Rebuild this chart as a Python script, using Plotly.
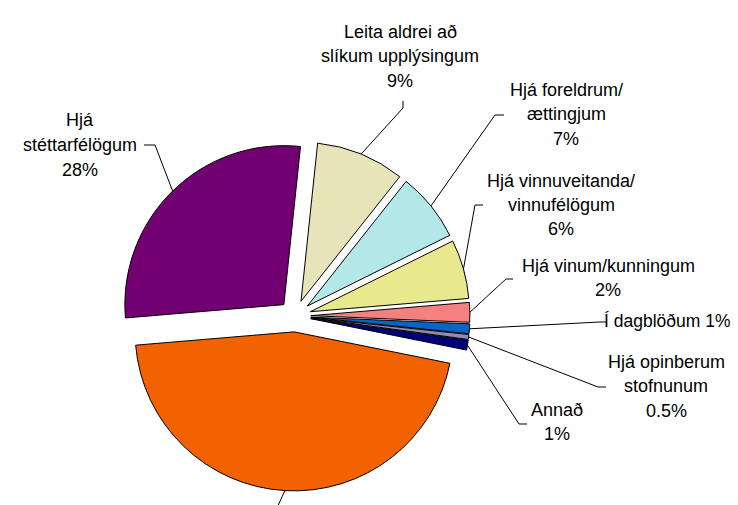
import math
import plotly.graph_objects as go

# ---------------- data ----------------
categories = [
    "Leita aldrei að slíkum upplýsingum",
    "Hjá foreldrum/ættingjum",
    "Hjá vinnuveitanda/vinnufélögum",
    "Hjá vinum/kunningum",
    "Í dagblöðum",
    "Hjá opinberum stofnunum",
    "Annað",
    "Annars staðar",
    "Hjá stéttarfélögum",
]
values = [9, 7, 6, 2, 1, 0.5, 1, 45.5, 28]
pct_text = ["9%", "7%", "6%", "2%", "1%", "0.5%", "1%", "46%", "28%"]
label_lines = [
    ["Leita aldrei að", "slíkum upplýsingum"],
    ["Hjá foreldrum/", "ættingjum"],
    ["Hjá vinnuveitanda/", "vinnufélögum"],
    ["Hjá vinum/kunningum"],
    ["Í dagblöðum"],
    ["Hjá opinberum", "stofnunum"],
    ["Annað"],
    [],
    ["Hjá", "stéttarfélögum"],
]
pct_inline = [False, False, False, False, True, False, False, False, False]
colors = ["#e6e4b8", "#b4e8e8", "#e8e88c", "#f48080", "#0a64c8",
          "#8c8cb4", "#000078", "#f26200", "#720072"]

# ---------------- layout constants (pixels) ----------------
W, H = 738, 505
CX, CY = 287, 308      # pie centre
R = 159                # pie radius
PULL = 0.1
ROT = 6
LINE_H = 24.5

# (x, y, anchor, font size)
label_pos = [(392, 48, "center", 18), (558, 106, "center", 18),
             (553, 197, "center", 18), (600, 270, "center", 18),
             (595, 313, "left", 17.5), (658, 378, "center", 18),
             (549, 414, "center", 18), (255, 545, "center", 18),
             (72, 137, "center", 18)]
leader_start = [(395, 93), (496, 107), (475, 197), (505, 271), (598, 314),
                (598, 379), (519, 416), (262, 515), (136, 137)]
leader_elbow = [(395, 100), (487, 107), (467, 197), (498, 271), (592, 314),
                (590, 379), (511, 416), None, (147, 137)]


def px(x):
    return x / W


def py(y):
    return 1 - y / H


fig = go.Figure(go.Pie(
    labels=categories,
    values=values,
    sort=False,
    direction="clockwise",
    rotation=ROT,
    pull=PULL,
    marker=dict(colors=colors, line=dict(color="#000000", width=1)),
    textinfo="none",
    hoverinfo="label+percent",
    showlegend=False,
    domain=dict(
        x=[px(CX - R * (1 + PULL)), px(CX + R * (1 + PULL))],
        y=[py(CY + R * (1 + PULL)), py(CY - R * (1 + PULL))],
    ),
))

# leader lines: end point computed from each slice's mid-angle
total = sum(values)
cum = 0.0
shapes = []
annotations = []
for i, v in enumerate(values):
    mid = math.radians(ROT + 360.0 * (cum + v / 2) / total)
    cum += v
    rr = R * (1 + PULL)
    ex = CX + rr * math.sin(mid)
    ey = CY - rr * math.cos(mid)
    pts = [leader_start[i]]
    if leader_elbow[i] is not None:
        pts.append(leader_elbow[i])
    pts.append((ex, ey))
    path = "M " + " L ".join(f"{px(a):.5f},{py(b):.5f}" for a, b in pts)
    shapes.append(dict(type="path", path=path, xref="paper", yref="paper",
                       line=dict(color="#000000", width=1)))
    if not label_lines[i]:
        continue
    if pct_inline[i]:
        lines = [label_lines[i][0] + " " + pct_text[i]]
    else:
        lines = label_lines[i] + [pct_text[i]]
    lx, ly, anchor, fs = label_pos[i]
    n = len(lines)
    for k, t in enumerate(lines):
        yk = ly + (k - (n - 1) / 2) * LINE_H
        annotations.append(dict(
            text=t, x=px(lx), y=py(yk), xref="paper", yref="paper",
            xanchor=anchor, yanchor="middle", showarrow=False,
            align=anchor if anchor != "center" else "center",
            borderpad=0,
            font=dict(family="Liberation Sans, Arial, sans-serif", size=fs,
                      color="#000000"),
        ))

fig.update_layout(
    width=W, height=H,
    margin=dict(l=0, r=0, t=0, b=0),
    paper_bgcolor="#ffffff",
    plot_bgcolor="#ffffff",
    shapes=shapes,
    annotations=annotations,
)

fig.write_html("out.html")
